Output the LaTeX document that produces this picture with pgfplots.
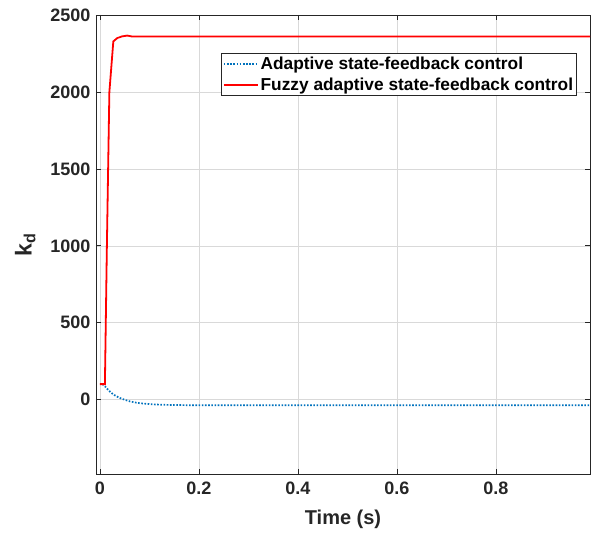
\documentclass[border=0pt]{standalone}
\usepackage{pgfplots}
\pgfplotsset{compat=1.18}
\usepackage{fontspec}
\setmainfont{Liberation Sans}
\definecolor{mblue}{RGB}{0,114,189}
\definecolor{axgray}{RGB}{38,38,38}
\begin{document}
\begin{tikzpicture}
\path[use as bounding box] (-96bp,-63bp) rectangle (497bp,474bp);
\begin{axis}[
  at={(0,0)}, anchor=south west,
  scale only axis, width=494bp, height=459bp,
  xmin=-0.008, xmax=0.99, ymin=-485, ymax=2502,
  xtick={0,0.2,0.4,0.6,0.8},
  xticklabels={0,0.2,0.4,0.6,0.8},
  ytick={0,500,1000,1500,2000,2500},
  yticklabels={0,500,1000,1500,2000,2500},
  tick align=inside,
  major tick length=5bp,
  xtick pos=both, ytick pos=both,
  grid=major,
  major grid style={gray!30, line width=0.6pt},
  axis line style={axgray, line width=0.8pt},
  every tick/.style={axgray, line width=0.8pt},
  tick label style={font=\fontsize{18bp}{20bp}\selectfont\bfseries, text=axgray},
  xticklabel style={yshift=-4bp},
  yticklabel style={xshift=-2bp},
  xlabel={Time (s)},
  ylabel={k\textsubscript{d}},
  label style={text=axgray},
  xlabel style={font=\fontsize{20bp}{22bp}\selectfont\bfseries, yshift=-9bp},
  ylabel style={font=\fontsize{23bp}{24bp}\selectfont\bfseries, yshift=8bp},
  legend style={at={(0.253,0.917)}, anchor=north west,
    font=\fontsize{17.3bp}{21bp}\selectfont\bfseries,
    draw=axgray, line width=0.8pt, inner sep=1.5bp, row sep=3bp,
    cells={anchor=west}},
  legend image code/.code={\draw[#1] (0bp,0bp) -- (34bp,0bp);},
]
\addplot[mblue, dash pattern=on 1.6pt off 1.6pt, line width=1.7pt] coordinates {
(0.005,100) (0.01,86) (0.015,68) (0.02,52) (0.025,38) (0.03,27) (0.035,18)
(0.04,10) (0.05,-2) (0.06,-12) (0.07,-19) (0.08,-24) (0.09,-27) (0.1,-30)
(0.12,-34) (0.15,-36) (0.2,-38) (0.3,-38) (0.5,-38) (0.99,-38)};
\addlegendentry{Adaptive state-feedback control}
\addplot[red, line width=1.8pt] coordinates {
(0,100) (0.009,100) (0.010,100) (0.014,1000) (0.019,2000) (0.027,2330)
(0.035,2352) (0.045,2363) (0.055,2368) (0.065,2362) (0.08,2362) (0.99,2362)};
\addlegendentry{Fuzzy adaptive state-feedback control}
\end{axis}
\end{tikzpicture}
\end{document}
